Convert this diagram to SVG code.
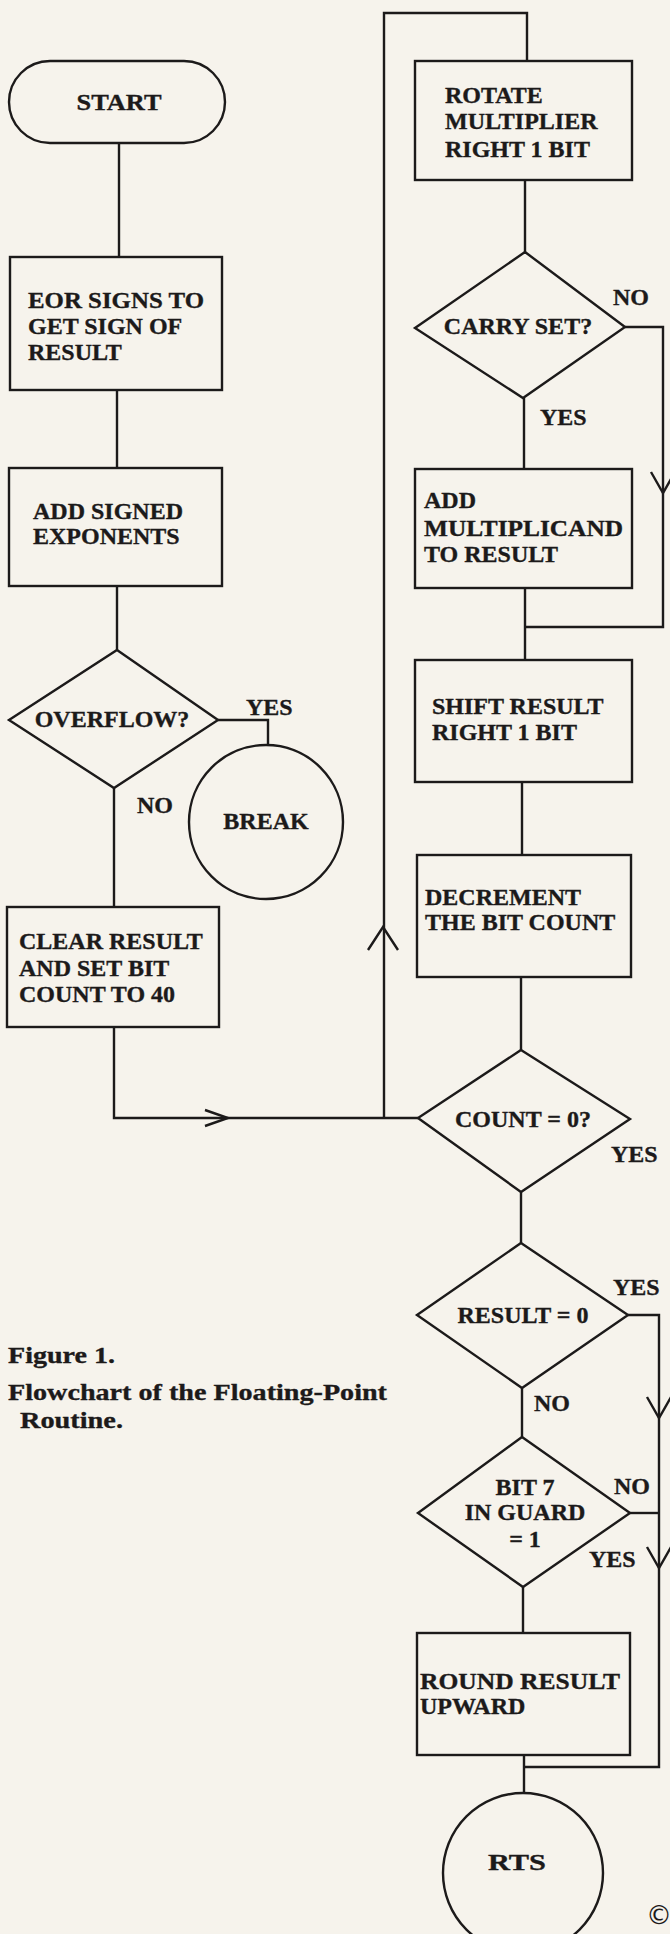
<svg xmlns="http://www.w3.org/2000/svg" width="670" height="1934" viewBox="0 0 670 1934">
<style>
.bg{fill:#f6f3ec}
.s{fill:none;stroke:#1c1a1a;stroke-width:2.4;stroke-linejoin:miter}
.n{fill:#f6f3ec;stroke:#1c1a1a;stroke-width:2.4}
.t{font-family:"Liberation Serif","Times New Roman",serif;font-weight:bold;font-size:24px;fill:#1c1a1a;stroke:#1c1a1a;stroke-width:0.35}
.m{text-anchor:middle}
</style>
<defs>
<path id="chev" d="M-12,-21 L0,0 L12,-21" class="s"/>
</defs>
<rect class="bg" x="0" y="0" width="670" height="1934"/>

<g id="connectors">
<line class="s" x1="119" y1="143" x2="119" y2="257"/>
<line class="s" x1="117" y1="390" x2="117" y2="468"/>
<line class="s" x1="117" y1="586" x2="117" y2="650"/>
<polyline class="s" points="218,720 268,720 268,745"/>
<line class="s" x1="114" y1="788" x2="114" y2="907"/>
<polyline class="s" points="114,1027 114,1118 418,1118"/>
<polyline class="s" points="205,1110 228,1118 205,1126"/>
<polyline class="s" points="384,1118 384,13 527,13 527,61"/>
<polyline class="s" points="368,950 383,927 398,950"/>
<line class="s" x1="525" y1="180" x2="525" y2="252"/>
<line class="s" x1="524" y1="398" x2="524" y2="469"/>
<polyline class="s" points="625,327 663,327 663,627 525,627"/>
<use href="#chev" x="663" y="493"/>
<line class="s" x1="525" y1="588" x2="525" y2="660"/>
<line class="s" x1="522" y1="782" x2="522" y2="855"/>
<line class="s" x1="521" y1="977" x2="521" y2="1050"/>
<line class="s" x1="521" y1="1192" x2="521" y2="1243"/>
<polyline class="s" points="628,1315 659,1315 659,1767 524,1767"/>
<use href="#chev" x="659" y="1418"/>
<use href="#chev" x="659" y="1568"/>
<line class="s" x1="522" y1="1388" x2="522" y2="1437"/>
<line class="s" x1="630" y1="1513" x2="659" y2="1513"/>
<line class="s" x1="523" y1="1587" x2="523" y2="1633"/>
<line class="s" x1="524" y1="1755" x2="524" y2="1793"/>
</g>

<g id="start">
<rect class="n" x="9" y="61" width="216" height="82" rx="41" ry="41"/>
<text class="t m" x="119" y="110" textLength="85" lengthAdjust="spacingAndGlyphs">START</text>
</g>

<g id="eor">
<rect class="n" x="10" y="257" width="212" height="133"/>
<text class="t" x="28" y="308" textLength="176" lengthAdjust="spacingAndGlyphs">EOR SIGNS TO</text>
<text class="t" x="28" y="334">GET SIGN OF</text>
<text class="t" x="28" y="360">RESULT</text>
</g>

<g id="addexp">
<rect class="n" x="9" y="468" width="213" height="118"/>
<text class="t" x="33" y="519">ADD SIGNED</text>
<text class="t" x="33" y="544">EXPONENTS</text>
</g>

<g id="overflow">
<polygon class="n" points="117,650 218,720 114,788 9,720"/>
<text class="t m" x="112" y="727">OVERFLOW?</text>
<text class="t" x="246" y="715">YES</text>
<text class="t" x="137" y="813">NO</text>
</g>

<g id="break">
<circle class="n" cx="266" cy="822" r="77"/>
<text class="t m" x="266" y="829">BREAK</text>
</g>

<g id="clear">
<rect class="n" x="7" y="907" width="212" height="120"/>
<text class="t" x="19" y="949">CLEAR RESULT</text>
<text class="t" x="19" y="976">AND SET BIT</text>
<text class="t" x="19" y="1002">COUNT TO 40</text>
</g>

<g id="rotate">
<rect class="n" x="415" y="61" width="217" height="119"/>
<text class="t" x="445" y="103">ROTATE</text>
<text class="t" x="445" y="129">MULTIPLIER</text>
<text class="t" x="445" y="157">RIGHT 1 BIT</text>
</g>

<g id="carry">
<polygon class="n" points="525,252 625,327 523,398 415,328"/>
<text class="t m" x="518" y="334">CARRY SET?</text>
<text class="t" x="613" y="305">NO</text>
<text class="t" x="540" y="425">YES</text>
</g>

<g id="addmul">
<rect class="n" x="415" y="469" width="217" height="119"/>
<text class="t" x="424" y="508">ADD</text>
<text class="t" x="424" y="536" textLength="199" lengthAdjust="spacingAndGlyphs">MULTIPLICAND</text>
<text class="t" x="424" y="562">TO RESULT</text>
</g>

<g id="shift">
<rect class="n" x="415" y="660" width="217" height="122"/>
<text class="t" x="432" y="714">SHIFT RESULT</text>
<text class="t" x="432" y="740">RIGHT 1 BIT</text>
</g>

<g id="decrement">
<rect class="n" x="417" y="855" width="214" height="122"/>
<text class="t" x="425" y="905">DECREMENT</text>
<text class="t" x="425" y="930">THE BIT COUNT</text>
</g>

<g id="count">
<polygon class="n" points="521,1050 630,1119 521,1192 418,1118"/>
<text class="t m" x="523" y="1127">COUNT = 0?</text>
<text class="t" x="611" y="1162">YES</text>
</g>

<g id="result0">
<polygon class="n" points="521,1243 628,1315 522,1388 417,1315"/>
<text class="t m" x="523" y="1323">RESULT = 0</text>
<text class="t" x="613" y="1295">YES</text>
<text class="t" x="534" y="1411">NO</text>
</g>

<g id="bit7">
<polygon class="n" points="522,1437 630,1513 523,1587 418,1513"/>
<text class="t m" x="525" y="1495">BIT 7</text>
<text class="t m" x="525" y="1520">IN GUARD</text>
<text class="t m" x="525" y="1547">= 1</text>
<text class="t" x="614" y="1494">NO</text>
<text class="t" x="589" y="1567">YES</text>
</g>

<g id="round">
<rect class="n" x="417" y="1633" width="213" height="122"/>
<text class="t" x="420" y="1689" textLength="200" lengthAdjust="spacingAndGlyphs">ROUND RESULT</text>
<text class="t" x="420" y="1714">UPWARD</text>
</g>

<g id="rts">
<circle class="n" cx="523" cy="1873" r="80"/>
<text class="t m" x="517" y="1870" textLength="58" lengthAdjust="spacingAndGlyphs">RTS</text>
</g>

<g id="caption">
<text class="t" x="8" y="1363" textLength="107" lengthAdjust="spacingAndGlyphs">Figure 1.</text>
<text class="t" x="8" y="1400" textLength="379" lengthAdjust="spacingAndGlyphs">Flowchart of the Floating-Point</text>
<text class="t" x="20" y="1428" textLength="103" lengthAdjust="spacingAndGlyphs">Routine.</text>
</g>

<text class="t" x="646" y="1924" style="font-family:'DejaVu Sans',sans-serif;font-weight:normal;font-size:26px;stroke-width:0">©</text>
</svg>
